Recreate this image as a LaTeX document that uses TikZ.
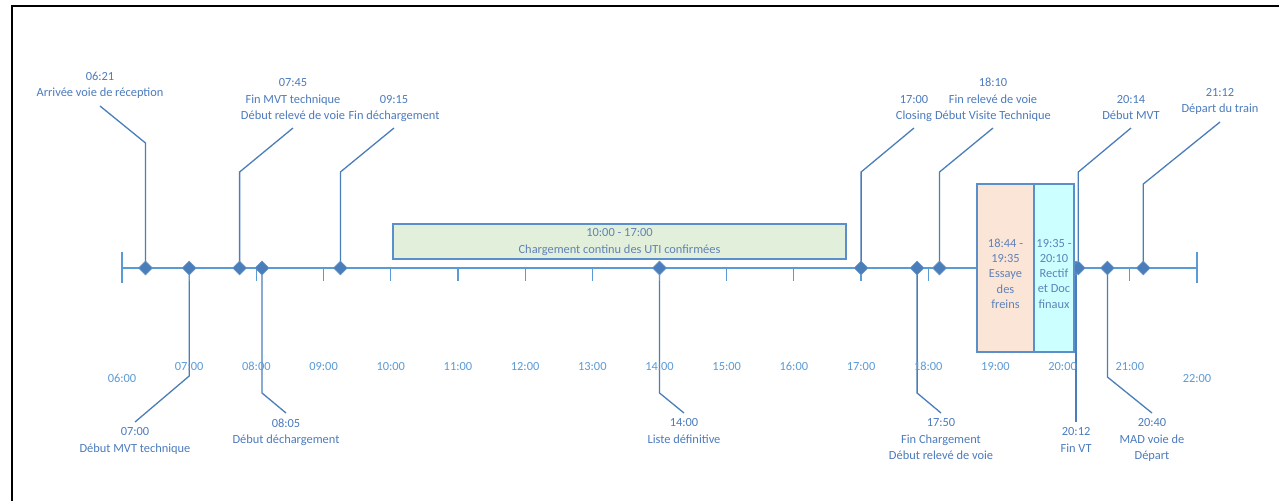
\documentclass[tikz,border=0pt]{standalone}
\usepackage{fontspec}
\setmainfont{Carlito}
\usetikzlibrary{shapes.geometric}
\definecolor{axisc}{HTML}{5B9BD5}
\definecolor{leadc}{HTML}{4A7EBB}
\definecolor{diac}{HTML}{4A7EBB}
\definecolor{evtext}{HTML}{4C7BBD}
\definecolor{hrtext}{HTML}{5B9BD5}
\definecolor{greenf}{HTML}{E2EFDA}
\definecolor{orangef}{HTML}{FBE5D6}
\definecolor{cyanf}{HTML}{CCFFFF}
\definecolor{boxborder}{HTML}{5B8FCB}
\definecolor{boxtext}{HTML}{5F82B8}
\pgfdeclarelayer{bg}
\pgfsetlayers{bg,main}
\begin{document}
\begin{tikzpicture}[x=1pt,y=-1pt,
  ev/.style={diamond, fill=diac, draw=diac!85!white, line width=0.6pt, inner sep=0pt,
    minimum width=14pt, minimum height=14pt},
  leader/.style={draw=leadc, line width=1.3pt},
  lab/.style={align=center, inner sep=0pt, text=evtext,
    font=\fontsize{12.4}{16.3}\selectfont,
    execute at begin node=\strut, execute at end node=\strut},
  hour/.style={anchor=base, inner sep=0pt, text=hrtext, font=\fontsize{12.4}{15}\selectfont},
  axisline/.style={draw=axisc, line width=1.4pt},
  tickmark/.style={draw=axisc, line width=1.2pt},
  periodbox/.style={draw=boxborder, line width=1.3pt, inner sep=0pt},
  boxlab/.style={align=center, inner sep=0pt, text=boxtext,
    font=\fontsize{12.4}{15.25}\selectfont,
    execute at begin node=\strut, execute at end node=\strut},
]
\useasboundingbox (0,0) rectangle (1279,501);
\begin{pgfonlayer}{bg}
\fill[white] (0,0) rectangle (1279,501);
\end{pgfonlayer}
% frame
\draw[line width=2pt, black] (11.5,501) -- (11.5,6) -- (1279,6);

% axis
\coordinate (ax0) at (122,268);
\coordinate (ax1) at (1197,268);
\draw[axisline] (ax0) -- (ax1);
\draw[tickmark] (122,252) -- (122,283);
\draw[tickmark] (1197,252) -- (1197,283);
\foreach \i in {1,...,15} \draw[tickmark] (122+\i*67.1875,268) -- (122+\i*67.1875,281);

% hour labels
\node[hour] (h0) at (122,382) {06:00};
\foreach \i/\t in {1/07:00,2/08:00,3/09:00,4/10:00,5/11:00,6/12:00,7/13:00,8/14:00,9/15:00,10/16:00,11/17:00,12/18:00,13/19:00,14/20:00,15/21:00}
  \node[hour] (h\i) at (122+\i*67.1875,370) {\t};
\node[hour] (h16) at (1197,382) {22:00};

% events (diamonds)
\node[ev] (e0621) at (145.5,268) {};
\node[ev] (e0700) at (189.2,268) {};
\node[ev] (e0745) at (239.6,268) {};
\node[ev] (e0805) at (262.0,268) {};
\node[ev] (e0915) at (340.4,268) {};
\node[ev] (e1400) at (659.5,268) {};
\node[ev] (e1700) at (861.1,268) {};
\node[ev] (e1750) at (917.1,268) {};
\node[ev] (e1810) at (939.5,268) {};
\node[ev] (e2012) at (1076.1,268) {};
\node[ev] (e2014) at (1078.3,268) {};
\node[ev] (e2040) at (1107.4,268) {};
\node[ev] (e2112) at (1143.3,268) {};

% bends and leader ends
\coordinate (b0621) at (145.5,143);  \coordinate (k0621) at (100,106);
\coordinate (b0700) at (189.2,376);  \coordinate (k0700) at (135,422);
\coordinate (b0745) at (239.6,172);  \coordinate (k0745) at (293,128);
\coordinate (b0805) at (262.0,393);  \coordinate (k0805) at (286,413);
\coordinate (b0915) at (340.4,172);  \coordinate (k0915) at (394,128);
\coordinate (b1400) at (659.5,393);  \coordinate (k1400) at (684,413);
\coordinate (b1700) at (861.1,172);  \coordinate (k1700) at (914,128);
\coordinate (b1750) at (917.1,393);  \coordinate (k1750) at (941,413);
\coordinate (b1810) at (939.5,172);  \coordinate (k1810) at (993,128);
\coordinate (k2012) at (1076.1,422);
\coordinate (b2014) at (1078.3,172); \coordinate (k2014) at (1131,128);
\coordinate (b2040) at (1107.4,377); \coordinate (k2040) at (1152,413);
\coordinate (b2112) at (1143.3,184); \coordinate (k2112) at (1220,122);

% labels above
\node[lab, anchor=south] (l0621) at (100,102) {06:21\\Arrivée voie de réception};
\node[lab, anchor=south] (l0745) at (293,124.5) {07:45\\Fin MVT technique\\Début relevé de voie};
\node[lab, anchor=south] (l0915) at (394,124.5) {09:15\\Fin déchargement};
\node[lab, anchor=south] (l1700) at (914,124.5) {17:00\\Closing};
\node[lab, anchor=south] (l1810) at (993,124.5) {18:10\\Fin relevé de voie\\Début Visite Technique};
\node[lab, anchor=south] (l2014) at (1131,124.5) {20:14\\Début MVT};
\node[lab, anchor=south] (l2112) at (1220,117.5) {21:12\\Départ du train};
% labels below
\node[lab, anchor=north] (l0700) at (135,427.5) {07:00\\Début MVT technique};
\node[lab, anchor=north] (l0805) at (286,418.5) {08:05\\Début déchargement};
\node[lab, anchor=north] (l1400) at (684,418.5) {14:00\\Liste définitive};
\node[lab, anchor=north] (l1750) at (941,418.5) {17:50\\Fin Chargement\\Début relevé de voie};
\node[lab, anchor=north] (l2012) at (1076.1,427.5) {20:12\\Fin VT};
\node[lab, anchor=north] (l2040) at (1152,418.5) {20:40\\MAD voie de\\Départ};

% leaders (behind diamonds)
\begin{pgfonlayer}{bg}
\draw[leader] (e0621.center) -- (b0621) -- (k0621);
\draw[leader] (e0700.center) -- (b0700) -- (k0700);
\draw[leader] (e0745.center) -- (b0745) -- (k0745);
\draw[leader] (e0805.center) -- (b0805) -- (k0805);
\draw[leader] (e0915.center) -- (b0915) -- (k0915);
\draw[leader] (e1400.center) -- (b1400) -- (k1400);
\draw[leader] (e1700.center) -- (b1700) -- (k1700);
\draw[leader] (e1750.center) -- (b1750) -- (k1750);
\draw[leader] (e1810.center) -- (b1810) -- (k1810);
\draw[leader] (e2012.center) -- (k2012);
\draw[leader] (e2014.center) -- (b2014) -- (k2014);
\draw[leader] (e2040.center) -- (b2040) -- (k2040);
\draw[leader] (e2112.center) -- (b2112) -- (k2112);
\end{pgfonlayer}

% period boxes
\node[periodbox, fill=greenf, minimum width=453pt, minimum height=35pt] (load) at (619.5,241.5) {};
\node[boxlab, font=\fontsize{12.4}{16.5}\selectfont] (loadt) at (619.5,243.5)
  {10:00 - 17:00\\Chargement continu des UTI confirmées};
\node[periodbox, fill=orangef, minimum width=57pt, minimum height=168pt] (brake) at (1005.5,268) {};
\node[periodbox, fill=cyanf, minimum width=40pt, minimum height=168pt] (rect) at (1054,268) {};
\node[boxlab] (braket) at (1005.5,276) {18:44 -\\19:35\\Essaye\\des\\freins};
\node[boxlab] (rectt) at (1054,276) {19:35 -\\20:10\\Rectif\\et Doc\\finaux};
\end{tikzpicture}
\end{document}
